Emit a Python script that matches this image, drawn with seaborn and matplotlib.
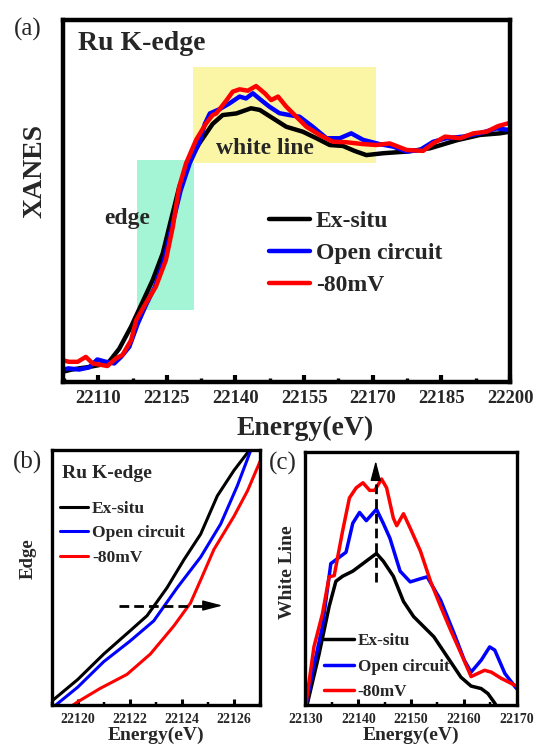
import numpy as np
import pandas as pd
import matplotlib
matplotlib.use("Agg")
import matplotlib.pyplot as plt
from matplotlib.lines import Line2D
from matplotlib.ticker import MultipleLocator, FormatStrFormatter
import seaborn as sns

sns.set_theme(style="ticks")
plt.rcParams["font.family"] = ["Liberation Serif", "DejaVu Serif"]
plt.rcParams["font.weight"] = "bold"
plt.rcParams["axes.labelweight"] = "bold"

SAMPLES = ["Ex-situ", "Open circuit", "-80mV"]
COLORS = {"Ex-situ": "#000000", "Open circuit": "#0000ff", "-80mV": "#ff0000"}

# ---- (a) full Ru K-edge XANES (normalised absorption) ----
e_a_exsitu = [22102.2, 22104.0, 22105.8, 22108.0, 22110.2, 22112.4, 22114.6, 22117.2,
              22119.7, 22121.9, 22124.1, 22125.9, 22127.7, 22129.9, 22132.1, 22135.0,
              22137.2, 22140.2, 22143.4, 22145.3, 22148.2, 22151.1, 22154.7, 22157.7,
              22160.6, 22163.5, 22166.0, 22168.6, 22172.3, 22177.4, 22182.5, 22188.3,
              22193.4, 22197.8, 22200.0]
mu_a_exsitu = [-0.029, -0.020, -0.014, -0.008, 0.000, 0.015, 0.070, 0.165,
               0.270, 0.363, 0.477, 0.620, 0.760, 0.876, 0.947, 1.030,
               1.068, 1.075, 1.097, 1.090, 1.054, 1.018, 0.997, 0.969,
               0.940, 0.936, 0.915, 0.897, 0.905, 0.912, 0.926, 0.960,
               0.983, 0.990, 0.997]

e_a_open = [22102.2, 22103.5, 22105.8, 22108.0, 22109.8, 22111.7, 22113.5, 22115.0,
            22116.8, 22118.6, 22120.4, 22122.4, 22124.4, 22126.2, 22128.0, 22130.0,
            22132.2, 22133.3, 22134.4, 22136.5, 22138.7, 22140.9, 22142.3, 22143.8,
            22145.6, 22147.4, 22149.6, 22151.8, 22154.0, 22156.9, 22159.9, 22162.8,
            22165.3, 22167.9, 22171.5, 22174.5, 22177.4, 22180.3, 22183.2, 22186.1,
            22189.8, 22193.4, 22197.1, 22200.0]
mu_a_open = [-0.020, -0.014, -0.019, -0.010, 0.024, 0.014, 0.007, 0.035,
             0.078, 0.175, 0.255, 0.335, 0.450, 0.600, 0.745, 0.862,
             0.955, 1.030, 1.075, 1.093, 1.118, 1.147, 1.139, 1.161,
             1.132, 1.104, 1.076, 1.068, 1.061, 1.018, 0.969, 0.969,
             0.990, 0.962, 0.944, 0.933, 0.912, 0.919, 0.954, 0.969,
             0.976, 0.990, 1.011, 1.004]

e_a_80mv = [22102.2, 22103.6, 22105.5, 22107.3, 22108.8, 22110.9, 22112.0, 22113.9,
            22115.3, 22117.2, 22118.3, 22120.4, 22122.6, 22124.8, 22126.3, 22127.7,
            22129.2, 22131.4, 22133.6, 22135.0, 22135.8, 22138.0, 22139.4, 22140.9,
            22142.7, 22144.5, 22146.4, 22147.8, 22149.3, 22151.1, 22153.3, 22155.5,
            22158.4, 22161.3, 22164.2, 22167.9, 22170.8, 22173.7, 22177.4, 22181.0,
            22183.2, 22185.8, 22189.1, 22192.0, 22194.9, 22197.4, 22200.0]
mu_a_80mv = [0.021, 0.014, 0.014, 0.035, 0.007, 0.000, -0.004, 0.029,
             0.043, 0.107, 0.192, 0.264, 0.335, 0.449, 0.590, 0.762,
             0.862, 0.962, 1.033, 1.068, 1.075, 1.130, 1.168, 1.178,
             1.172, 1.192, 1.161, 1.132, 1.147, 1.104, 1.061, 1.018,
             0.983, 0.954, 0.952, 0.944, 0.940, 0.947, 0.919, 0.915,
             0.947, 0.976, 0.969, 0.990, 0.997, 1.021, 1.035]

# highlighted regions (energy span, absorption span)
edge_band = ([22118.4, 22131.0], [0.235, 0.876])
white_band = ([22130.8, 22170.8], [0.862, 1.275])

# ---- (b) rising edge ----
e_b_exsitu = [22119.0, 22120.0, 22121.0, 22122.0, 22122.66, 22123.43, 22124.08,
              22124.72, 22125.36, 22126.0, 22126.6, 22126.8]
mu_b_exsitu = [0.226, 0.260, 0.300, 0.336, 0.360, 0.404, 0.448,
               0.488, 0.548, 0.588, 0.620, 0.630]
e_b_open = [22119.1, 22120.0, 22121.0, 22122.0, 22122.92, 22123.82, 22124.72,
            22125.49, 22126.13, 22126.65, 22126.8]
mu_b_open = [0.218, 0.248, 0.288, 0.320, 0.352, 0.404, 0.452,
             0.504, 0.564, 0.620, 0.630]
e_b_80mv = [22119.75, 22120.0, 22120.86, 22121.89, 22122.79, 22123.69, 22124.33,
            22124.72, 22125.23, 22126.0, 22126.52, 22127.0]
mu_b_80mv = [0.218, 0.225, 0.246, 0.268, 0.300, 0.344, 0.380,
             0.416, 0.464, 0.516, 0.556, 0.602]

# ---- (c) white-line peak ----
e_c_exsitu = [22130.3, 22132.56, 22134.48, 22135.76, 22137.04, 22138.96, 22140.88,
              22142.8, 22143.44, 22144.72, 22146.64, 22148.56, 22150.48, 22152.4,
              22154.32, 22156.88, 22159.44, 22161.36, 22163.28, 22164.56, 22165.84,
              22166.6]
mu_c_exsitu = [0.850, 0.930, 1.006, 1.046, 1.054, 1.062, 1.074,
               1.086, 1.090, 1.078, 1.054, 1.014, 0.990, 0.974,
               0.958, 0.926, 0.894, 0.880, 0.876, 0.868, 0.853,
               0.842]
e_c_open = [22130.0, 22131.28, 22133.2, 22134.8, 22136.4, 22137.68, 22138.96,
            22140.24, 22141.52, 22143.44, 22144.72, 22146.0, 22147.92, 22149.84,
            22151.76, 22153.04, 22155.6, 22158.16, 22160.08, 22161.36, 22163.28,
            22164.88, 22165.84, 22167.76, 22169.68, 22170.2]
mu_c_open = [0.846, 0.900, 0.974, 1.074, 1.084, 1.092, 1.138,
             1.155, 1.142, 1.160, 1.138, 1.114, 1.062, 1.045,
             1.050, 1.053, 1.016, 0.963, 0.921, 0.902, 0.921,
             0.942, 0.937, 0.900, 0.879, 0.874]
e_c_80mv = [22130.0, 22131.6, 22133.2, 22134.48, 22135.44, 22137.04, 22138.32,
            22139.6, 22140.88, 22142.16, 22143.12, 22144.4, 22145.36, 22146.64,
            22147.28, 22148.56, 22149.84, 22151.76, 22153.68, 22155.6, 22157.52,
            22159.44, 22161.36, 22162.64, 22163.92, 22165.2, 22167.12, 22170.2]
mu_c_80mv = [0.846, 0.942, 0.994, 1.053, 1.055, 1.126, 1.178,
             1.194, 1.202, 1.190, 1.190, 1.208, 1.194, 1.146,
             1.134, 1.153, 1.130, 1.094, 1.046, 1.006, 0.968,
             0.932, 0.895, 0.900, 0.905, 0.902, 0.892, 0.879]


def long_frame(series):
    rows = []
    for name, (e, mu) in zip(SAMPLES, series):
        rows.append(pd.DataFrame({"energy": e, "mu": mu, "sample": name}))
    return pd.concat(rows, ignore_index=True)


def style_axis(ax, lw_spine, major, minor, tick_size, tick_w, tick_len):
    for sp in ax.spines.values():
        sp.set_visible(True)
        sp.set_linewidth(lw_spine)
        sp.set_color("black")
    ax.xaxis.set_major_locator(MultipleLocator(major))
    ax.xaxis.set_minor_locator(MultipleLocator(minor))
    ax.xaxis.set_major_formatter(FormatStrFormatter("%d"))
    ax.tick_params(axis="x", which="major", direction="in", bottom=True, top=False,
                   width=tick_w, length=tick_len, labelsize=tick_size, pad=6, color="black")
    ax.tick_params(axis="x", which="minor", direction="in", bottom=True, top=False,
                   width=tick_w * 0.8, length=tick_len * 0.6, color="black")
    ax.tick_params(axis="y", which="both", left=False, right=False, labelleft=False)
    ax.set_facecolor("white")
    ax.grid(False)


def draw_lines(ax, df, lw):
    sns.lineplot(data=df, x="energy", y="mu", hue="sample", hue_order=SAMPLES,
                 palette=COLORS, estimator=None, sort=True, lw=lw, legend=False, ax=ax)


def add_legend(ax, lw, size, anchor, handlelength, labelspacing):
    handles = [Line2D([], [], color=COLORS[s], lw=lw) for s in SAMPLES]
    ax.legend(handles, SAMPLES, loc="center left", bbox_to_anchor=anchor,
              frameon=False, borderpad=0, borderaxespad=0, handlelength=handlelength,
              handletextpad=0.25, labelspacing=labelspacing,
              prop={"family": "Liberation Serif", "weight": "bold", "size": size})


fig = plt.figure(figsize=(5.38, 7.52), dpi=100)
fig.patch.set_facecolor("white")

# ---------------- panel (a) ----------------
ax_a = fig.add_axes([0.1162, 0.4924, 0.8318, 0.4816])
for (xs, ys), col in ((edge_band, "#a3f5d6"), (white_band, "#fbf5a6")):
    ax_a.fill_between(xs, [ys[0]] * 2, [ys[1]] * 2, color=col, lw=0, zorder=0)
draw_lines(ax_a, long_frame([(e_a_exsitu, mu_a_exsitu), (e_a_open, mu_a_open),
                             (e_a_80mv, mu_a_80mv)]), 3.2)
ax_a.set_xlim(22102.2, 22200)
ax_a.set_ylim(-0.071, 1.476)
style_axis(ax_a, 3.2, 15, 7.5, 13.5, 3.0, 5)
ax_a.set_xlabel("Energy(eV)", fontsize=20)
ax_a.xaxis.set_label_coords(0.542, -0.095)
ax_a.set_ylabel("XANES", fontsize=20)
ax_a.yaxis.set_label_coords(-0.033, 0.582)
ax_a.text(0.035, 0.935, "Ru K-edge", transform=ax_a.transAxes, fontsize=20,
          ha="left", va="center")
ax_a.text(22116.4, 0.627, "edge", fontsize=17, ha="center", va="center")
ax_a.text(22146.5, 0.926, "white line", fontsize=17, ha="center", va="center")
add_legend(ax_a, 3.2, 17, (0.461, 0.3545), 1.75, 0.45)

# ---------------- panel (b) ----------------
ax_b = fig.add_axes([0.0961, 0.0625, 0.3872, 0.3391])
draw_lines(ax_b, long_frame([(e_b_exsitu, mu_b_exsitu), (e_b_open, mu_b_open),
                             (e_b_80mv, mu_b_80mv)]), 2.2)
ax_b.set_xlim(22119, 22127)
ax_b.set_ylim(0.22, 0.62)
style_axis(ax_b, 2.4, 2, 1, 10, 2.2, 4)
ax_b.set_xlabel("Energy(eV)", fontsize=14)
ax_b.xaxis.set_label_coords(0.5, -0.085)
ax_b.set_ylabel("Edge", fontsize=13.5)
ax_b.yaxis.set_label_coords(-0.07, 0.575)
ax_b.text(0.048, 0.909, "Ru K-edge", transform=ax_b.transAxes, fontsize=14,
          ha="left", va="center")
add_legend(ax_b, 2.2, 12.5, (0.04, 0.673), 1.6, 0.48)
# shift of the edge towards higher energy
y_arrow_b = 0.376
ax_b.plot([22121.57, 22124.95], [y_arrow_b, y_arrow_b], color="black", lw=2,
          ls=(0, (3.5, 1.8)))
ax_b.annotate("", xy=(22125.56, y_arrow_b), xytext=(22124.9, y_arrow_b),
              arrowprops=dict(arrowstyle="-|>,head_length=0.61,head_width=0.16",
                              color="black", lw=1, shrinkA=0, shrinkB=0,
                              mutation_scale=20))

# ---------------- panel (c) ----------------
ax_c = fig.add_axes([0.5678, 0.0625, 0.3926, 0.3358])
draw_lines(ax_c, long_frame([(e_c_exsitu, mu_c_exsitu), (e_c_open, mu_c_open),
                             (e_c_80mv, mu_c_80mv)]), 2.5)
ax_c.set_xlim(22130, 22170)
ax_c.set_ylim(0.85, 1.25)
style_axis(ax_c, 2.4, 10, 5, 10, 2.2, 4)
ax_c.set_xlabel("Energy(eV)", fontsize=14)
ax_c.xaxis.set_label_coords(0.5, -0.085)
ax_c.set_ylabel("White Line", fontsize=14)
ax_c.yaxis.set_label_coords(-0.045, 0.526)
add_legend(ax_c, 2.5, 12.3, (0.086, 0.151), 1.75, 0.55)
# growth of the white-line intensity
x_arrow_c = 22143.3
ax_c.plot([x_arrow_c, x_arrow_c], [1.045, 1.212], color="black", lw=2,
          ls=(0, (3.5, 1.8)))
ax_c.annotate("", xy=(x_arrow_c, 1.237), xytext=(x_arrow_c, 1.210),
              arrowprops=dict(arrowstyle="-|>,head_length=0.61,head_width=0.16",
                              color="black", lw=1, shrinkA=0, shrinkB=0,
                              mutation_scale=20))

# panel letters
for x, y, s in ((0.0515, 0.9608, "(a)"), (0.0511, 0.3856, "(b)"), (0.525, 0.3843, "(c)")):
    fig.text(x, y, s, fontsize=18, fontweight="normal", ha="center", va="center")

fig.savefig("out.png", dpi=100, facecolor="white")
